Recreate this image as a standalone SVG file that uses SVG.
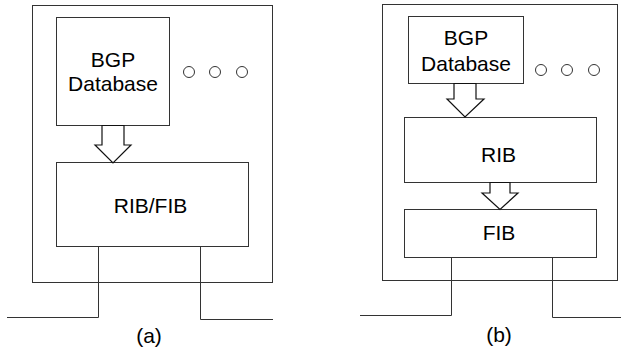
<svg xmlns="http://www.w3.org/2000/svg" width="621" height="348" viewBox="0 0 621 348">
<style>
.b{fill:#fff;stroke:#333;stroke-width:1}
.l{fill:none;stroke:#333;stroke-width:1}
.a{fill:#fff;stroke:#111;stroke-width:1.2;stroke-linejoin:miter}
.t{font-family:"Liberation Sans",Arial,sans-serif;font-size:21px;fill:#000;text-anchor:middle}
</style>
<rect width="621" height="348" fill="#fff"/>
<g id="routerA"><rect class="b" x="32.5" y="5.5" width="240" height="277"/></g>
<g id="bgpA"><rect class="b" x="56.5" y="17.5" width="113" height="108"/>
<text class="t" x="113" y="67">BGP</text><text class="t" x="113" y="90.5">Database</text></g>
<g id="dotsA"><circle class="l" cx="189" cy="72" r="5.5"/><circle class="l" cx="215" cy="72" r="5.5"/><circle class="l" cx="242" cy="72" r="5.5"/></g>
<g id="ribfibA"><rect class="b" x="56.5" y="162.5" width="192" height="84"/>
<text class="t" x="150.5" y="213">RIB/FIB</text></g>
<g id="routerB"><rect class="b" x="382.5" y="4.5" width="235" height="276"/></g>
<g id="bgpB"><rect class="b" x="408.5" y="16.5" width="115" height="67"/>
<text class="t" x="466" y="44.5">BGP</text><text class="t" x="466" y="70.5">Database</text></g>
<g id="dotsB"><circle class="l" cx="541" cy="70" r="5.5"/><circle class="l" cx="567" cy="70" r="5.5"/><circle class="l" cx="594" cy="70" r="5.5"/></g>
<g id="ribB"><rect class="b" x="404.5" y="117.5" width="192" height="65"/>
<text class="t" x="498.5" y="161.5">RIB</text></g>
<g id="fibB"><rect class="b" x="404.5" y="209.5" width="192" height="48"/>
<text class="t" x="499" y="240">FIB</text></g>
<g id="connectors">
<polygon class="a" points="102,125.5 124,125.5 124,145 131,145 113,163 95,145 102,145"/>
<polygon class="a" points="454,83.5 476,83.5 476,99 484,99 465,117 447,99 454,99"/>
<polygon class="a" points="490,182.5 510,182.5 510,193 518,193 500,209.5 482,193 490,193"/>
<polyline class="l" points="98.5,246 98.5,317.5 7,317.5"/>
<polyline class="l" points="200.5,246 200.5,319.5 273,319.5"/>
<polyline class="l" points="451.5,257 451.5,315.5 360,315.5"/>
<polyline class="l" points="552.5,257 552.5,317.5 621,317.5"/>
</g>
<text class="t" x="149" y="343">(a)</text>
<text class="t" x="499" y="342">(b)</text>
</svg>
